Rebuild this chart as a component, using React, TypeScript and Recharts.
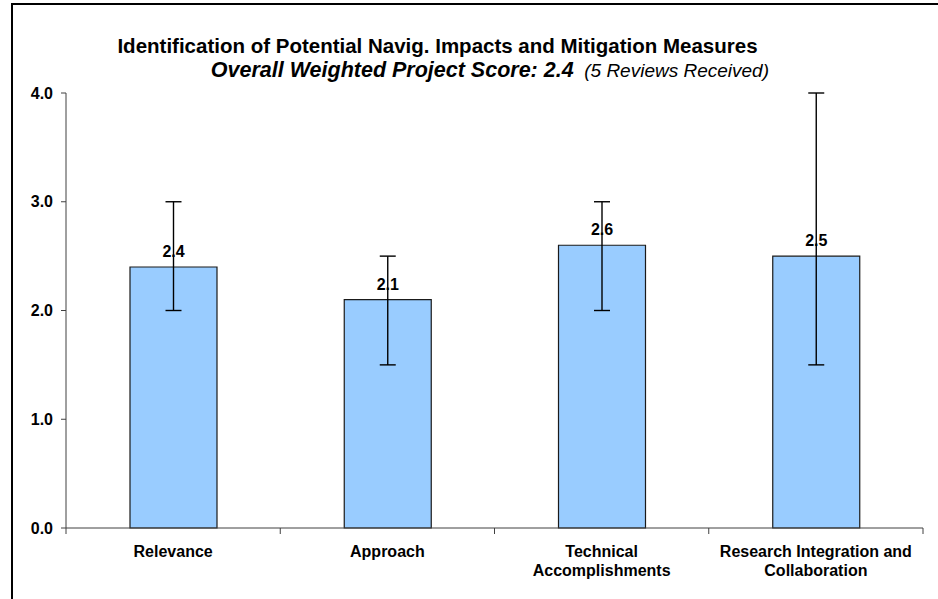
import { BarChart, Bar, XAxis, YAxis, ErrorBar, LabelList, Text } from 'recharts'

const CATEGORIES = ['Relevance', 'Approach', 'Technical Accomplishments', 'Research Integration and Collaboration']
const SCORES = [2.4, 2.1, 2.6, 2.5]
const LOW = [2.0, 1.5, 2.0, 1.5]
const HIGH = [3.0, 2.5, 3.0, 4.0]
const Y_TICKS = [0, 1, 2, 3, 4]

const FONT = '"Liberation Sans", Arial, Helvetica, sans-serif'
const AXIS = '#404040'

const data = CATEGORIES.map((name, i) => ({
  name,
  score: SCORES[i],
  err: [+(SCORES[i] - LOW[i]).toFixed(2), +(HIGH[i] - SCORES[i]).toFixed(2)],
}))

const W = 938
const H = 599
const LEFT = 66
const RIGHT = 15

function CategoryTick(props: any) {
  const { x, y, payload, index } = props
  const half = payload?.offset ?? (W - LEFT - RIGHT) / CATEGORIES.length / 2
  const axisY = y - 18
  return (
    <g>
      {index === 0 && <line x1={x - half} x2={x - half} y1={axisY} y2={axisY + 6} stroke={AXIS} />}
      <line x1={x + half} x2={x + half} y1={axisY} y2={axisY + 6} stroke={AXIS} />
      <Text
        x={x}
        y={y}
        width={210}
        lineHeight="1.15em"
        textAnchor="middle"
        verticalAnchor="start"
        style={{ fontFamily: FONT, fontSize: 16, fontWeight: 700, fill: '#000' }}
      >
        {payload.value}
      </Text>
    </g>
  )
}

export default function App() {
  return (
    <div style={{ position: 'absolute', left: 0, top: 0, width: W, height: H, overflow: 'hidden', background: '#fff', fontFamily: FONT }}>
      <div style={{ position: 'absolute', left: 11, top: 3, width: W, height: H, borderLeft: '2px solid #000', borderTop: '2px solid #000' }} />
      <div style={{ position: 'absolute', left: 0, width: 875, top: 36, textAlign: 'center', fontSize: 20.5, fontWeight: 700, color: '#000', lineHeight: '20px', whiteSpace: 'nowrap' }}>
        Identification of Potential Navig. Impacts and Mitigation Measures
      </div>
      <div style={{ position: 'absolute', left: 0, width: 769, top: 60, textAlign: 'right', fontStyle: 'italic', color: '#000', lineHeight: '20px', whiteSpace: 'nowrap' }}>
        <b style={{ fontSize: 21.5 }}>Overall Weighted Project Score: 2.4</b>
        <span style={{ fontSize: 19 }}>{'\u00a0\u00a0(5 Reviews Received)'}</span>
      </div>
      <div style={{ position: 'absolute', left: 0, top: 0 }}>
        <BarChart width={W} height={H} data={data} margin={{ top: 93, right: RIGHT, left: 0, bottom: 11 }}>
          <XAxis
            dataKey="name"
            height={60}
            axisLine={{ stroke: AXIS }}
            tickLine={false}
            tickSize={6}
            tickMargin={12}
            interval={0}
            tick={<CategoryTick />}
          />
          <YAxis
            width={LEFT}
            domain={[0, 4]}
            ticks={Y_TICKS}
            interval={0}
            tickFormatter={(v: number) => v.toFixed(1)}
            axisLine={{ stroke: AXIS }}
            tickLine={{ stroke: AXIS }}
            tickSize={5}
            tickMargin={8}
            tick={{ fontFamily: FONT, fontSize: 16, fontWeight: 700, fill: '#000' }}
          />
          <Bar dataKey="score" fill="#99CCFF" stroke="#1a1a1a" strokeWidth={1.2} barSize={87} isAnimationActive={false}>
            <LabelList
              dataKey="score"
              position="top"
              offset={10}
              formatter={(v: any) => Number(v).toFixed(1)}
              style={{ fontFamily: FONT, fontSize: 16, fontWeight: 700, fill: '#000' }}
            />
            <ErrorBar dataKey="err" direction="y" width={8} stroke="#000" strokeWidth={1.4} isAnimationActive={false} />
          </Bar>
        </BarChart>
      </div>
    </div>
  )
}
